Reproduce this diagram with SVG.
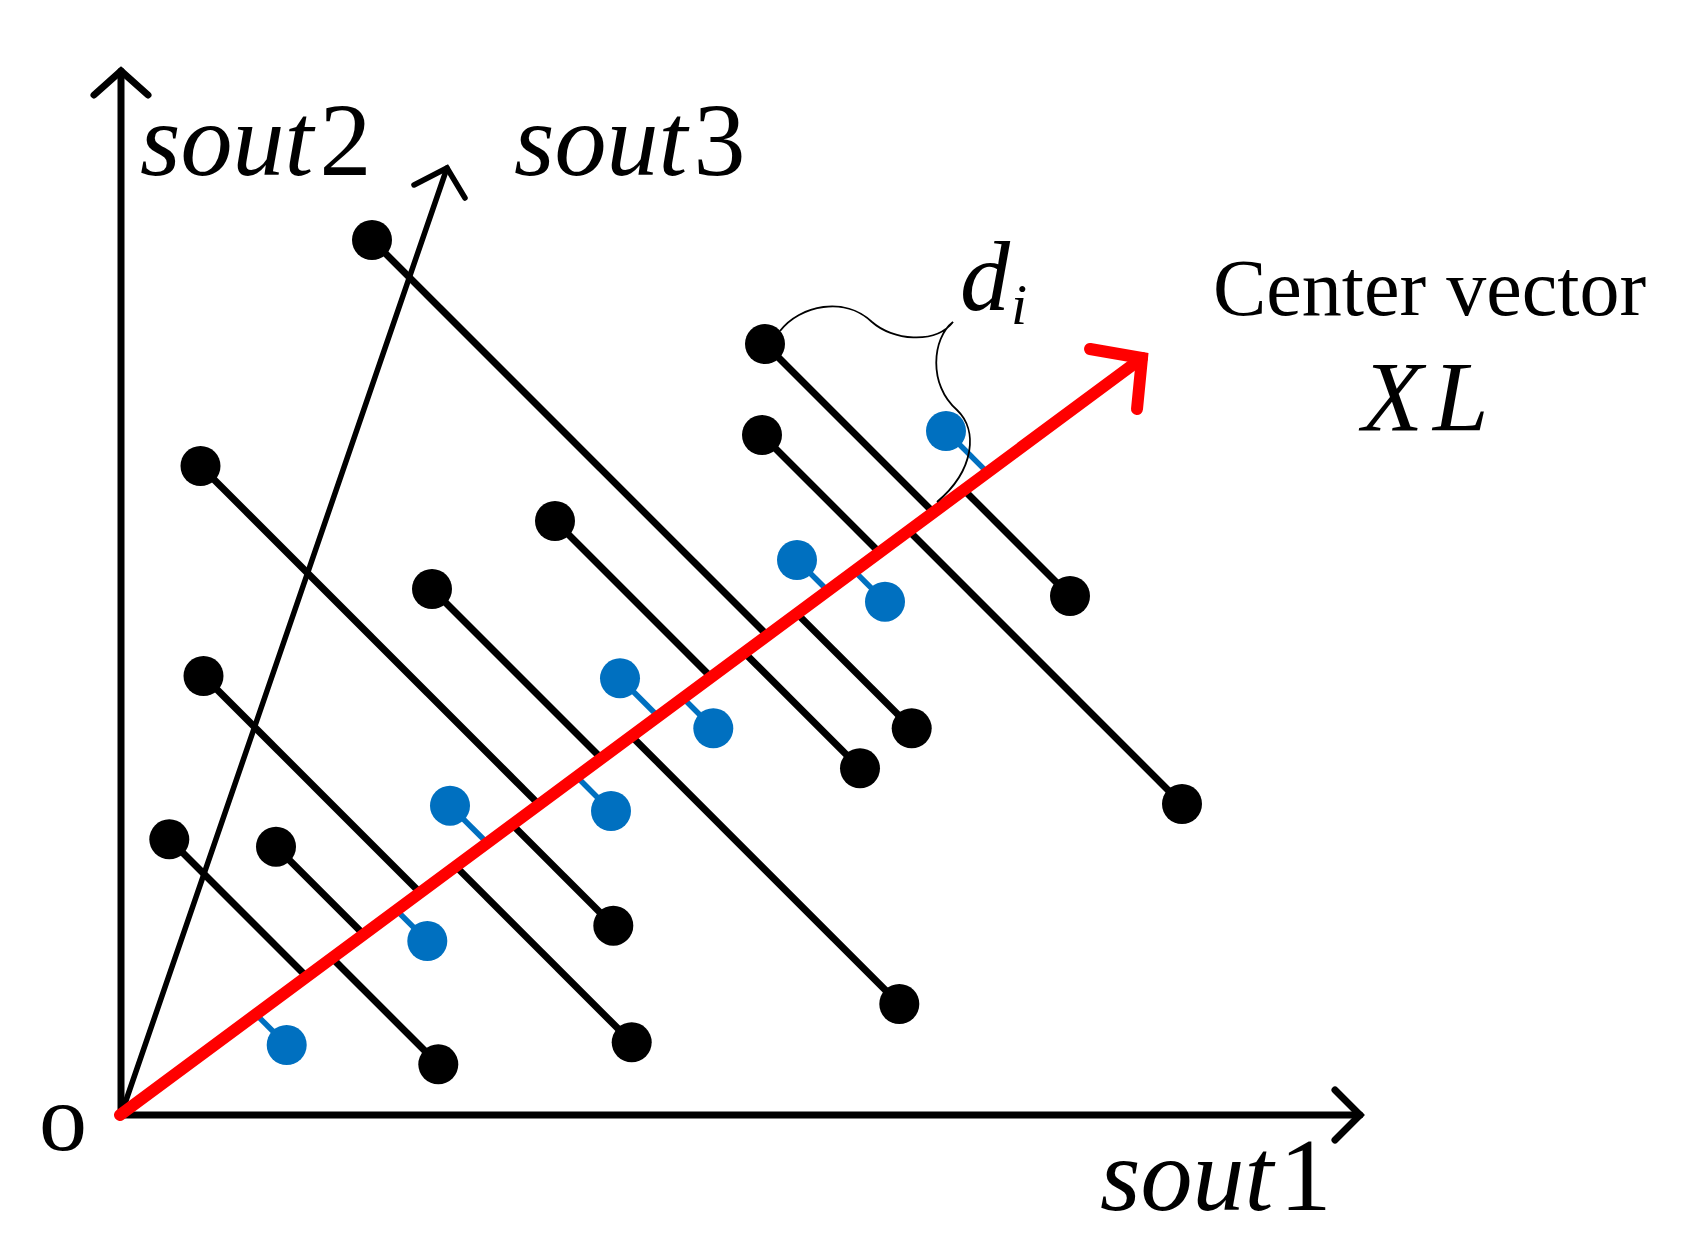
<svg xmlns="http://www.w3.org/2000/svg" width="1681" height="1260" viewBox="0 0 1681 1260">
<style>
.ax{stroke:#000;stroke-width:7;fill:none;stroke-linecap:round;stroke-linejoin:miter}
.ax3{stroke:#000;stroke-width:5.5;fill:none;stroke-linecap:round;stroke-linejoin:miter}
.bl{stroke:#000;stroke-width:7;fill:none}
.bu{stroke:#0070C0;stroke-width:5.5;fill:none}
.kd{fill:#000}
.ud{fill:#0070C0}
.red{stroke:#FF0000;stroke-width:12;fill:none;stroke-linecap:round;stroke-linejoin:miter}
.lab{font-family:"Liberation Serif","Times New Roman",serif;fill:#000}
.it{font-style:italic}
</style>
<rect width="1681" height="1260" fill="#fff"/>
<g id="axes">
<line class="ax" x1="121" y1="1115" x2="121" y2="71"/>
<polyline class="ax" points="94,95 121,71 148,95"/>
<line class="ax" x1="121" y1="1115" x2="1360" y2="1115"/>
<polyline class="ax" points="1335,1090 1360,1115 1335,1140"/>
<line class="ax3" x1="121" y1="1115" x2="447" y2="168"/>
<polyline class="ax3" points="414,185 447,168 465,198"/>
</g>
<g id="connectors">
<line class="bl" x1="765" y1="344" x2="933.5" y2="512.5"/>
<line class="bl" x1="762" y1="435" x2="879.5" y2="552.5"/>
<line class="bl" x1="372" y1="240" x2="767.5" y2="635.5"/>
<line class="bl" x1="555" y1="521" x2="711.2" y2="677.2"/>
<line class="bl" x1="432" y1="589" x2="601.5" y2="758.5"/>
<line class="bl" x1="200.5" y1="466" x2="539.1" y2="804.6"/>
<line class="bl" x1="203.5" y1="676" x2="420.2" y2="892.7"/>
<line class="bl" x1="276" y1="846.7" x2="363.8" y2="934.5"/>
<line class="bl" x1="169.3" y1="839.3" x2="306.7" y2="976.7"/>
<line class="bl" x1="1070" y1="596" x2="964" y2="490"/>
<line class="bl" x1="1182" y1="804" x2="908.8" y2="530.8"/>
<line class="bl" x1="911.7" y1="728.3" x2="797" y2="613.6"/>
<line class="bl" x1="860" y1="768.3" x2="744.4" y2="652.7"/>
<line class="bl" x1="899.3" y1="1004" x2="631.5" y2="736.2"/>
<line class="bl" x1="613.3" y1="925.7" x2="512.2" y2="824.6"/>
<line class="bl" x1="631.7" y1="1042.3" x2="455.8" y2="866.4"/>
<line class="bl" x1="438.3" y1="1064.3" x2="332" y2="958"/>
<line class="bu" x1="946" y1="431" x2="987.6" y2="472.6"/>
<line class="bu" x1="797" y1="560" x2="827.8" y2="590.8"/>
<line class="bu" x1="620" y1="678.3" x2="658.2" y2="716.5"/>
<line class="bu" x1="450" y1="805.7" x2="487.3" y2="843"/>
<line class="bu" x1="885" y1="601.7" x2="854.4" y2="571.1"/>
<line class="bu" x1="713.3" y1="728.3" x2="683" y2="698"/>
<line class="bu" x1="611" y1="811" x2="576.8" y2="776.8"/>
<line class="bu" x1="427.3" y1="941" x2="396.5" y2="910.2"/>
<line class="bu" x1="286.7" y1="1045" x2="256" y2="1014.3"/>
</g>
<g id="dot-E"><circle class="kd" cx="765" cy="344" r="20"/></g>
<g id="dot-F"><circle class="kd" cx="762" cy="435" r="20"/></g>
<g id="dot-A"><circle class="kd" cx="372" cy="240" r="20"/></g>
<g id="dot-C"><circle class="kd" cx="555" cy="521" r="20"/></g>
<g id="dot-D"><circle class="kd" cx="432" cy="589" r="20"/></g>
<g id="dot-B"><circle class="kd" cx="200.5" cy="466" r="20"/></g>
<g id="dot-K"><circle class="kd" cx="203.5" cy="676" r="20"/></g>
<g id="dot-M"><circle class="kd" cx="276" cy="846.7" r="20"/></g>
<g id="dot-L"><circle class="kd" cx="169.3" cy="839.3" r="20"/></g>
<g id="dot-J"><circle class="kd" cx="1070" cy="596" r="20"/></g>
<g id="dot-Z"><circle class="kd" cx="1182" cy="804" r="20"/></g>
<g id="dot-W"><circle class="kd" cx="911.7" cy="728.3" r="20"/></g>
<g id="dot-X"><circle class="kd" cx="860" cy="768.3" r="20"/></g>
<g id="dot-Y"><circle class="kd" cx="899.3" cy="1004" r="20"/></g>
<g id="dot-S"><circle class="kd" cx="613.3" cy="925.7" r="20"/></g>
<g id="dot-U"><circle class="kd" cx="631.7" cy="1042.3" r="20"/></g>
<g id="dot-T"><circle class="kd" cx="438.3" cy="1064.3" r="20"/></g>
<g id="dot-G"><circle class="ud" cx="946" cy="431" r="20"/></g>
<g id="dot-H"><circle class="ud" cx="797" cy="560" r="20"/></g>
<g id="dot-N"><circle class="ud" cx="620" cy="678.3" r="20"/></g>
<g id="dot-O"><circle class="ud" cx="450" cy="805.7" r="20"/></g>
<g id="dot-I"><circle class="ud" cx="885" cy="601.7" r="20"/></g>
<g id="dot-V"><circle class="ud" cx="713.3" cy="728.3" r="20"/></g>
<g id="dot-P"><circle class="ud" cx="611" cy="811" r="20"/></g>
<g id="dot-Q"><circle class="ud" cx="427.3" cy="941" r="20"/></g>
<g id="dot-R"><circle class="ud" cx="286.7" cy="1045" r="20"/></g>
<g id="center-vector">
<line class="red" x1="120" y1="1115" x2="1142" y2="358"/>
<polyline class="red" points="1090,349 1142,358 1137,409"/>
</g>
<g id="brace">
<path d="M780,331 C800,305 845,296 872,322 C892,340 935,345 953,322 C932,338 928,385 957,410 C978,430 975,470 937,502" fill="none" stroke="#000" stroke-width="1.8"/>
</g>
<g id="labels">
<text class="lab it" x="140" y="175" font-size="104">sout<tspan font-style="normal" dx="6">2</tspan></text>
<text class="lab it" x="514" y="175" font-size="104">sout<tspan font-style="normal" dx="6">3</tspan></text>
<text class="lab it" x="1100" y="1210" font-size="104">sout<tspan font-style="normal" dx="6">1</tspan></text>
<text class="lab" x="1213" y="315" font-size="80">Center vector</text>
<text class="lab it" x="1362" y="430" font-size="100" letter-spacing="10">XL</text>
<text class="lab it" x="960" y="310" font-size="100">d</text>
<text class="lab it" x="1011" y="324" font-size="58">i</text>
<text class="lab" x="39" y="1150" font-size="96">o</text>
</g>
</svg>
